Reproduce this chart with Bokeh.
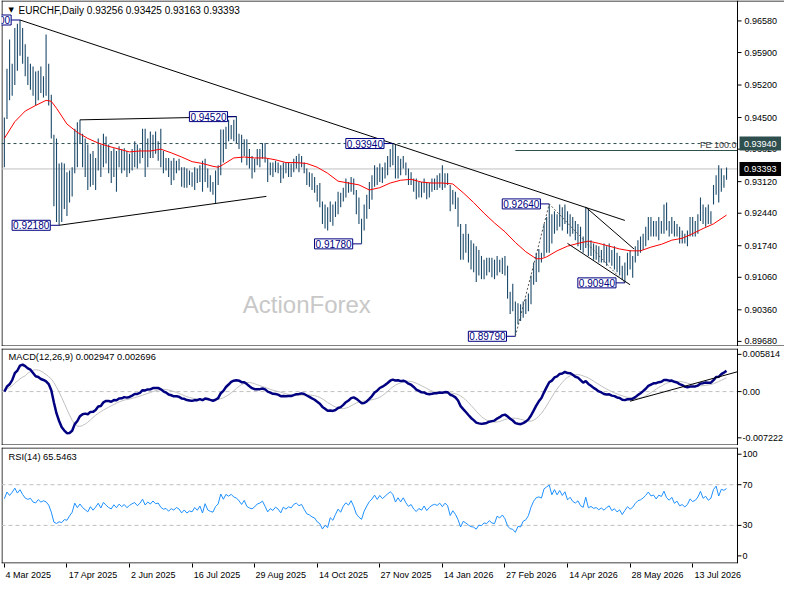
import numpy as np
from bokeh.plotting import figure
from bokeh.layouts import column
from bokeh.models import Range1d, FixedTicker, Label, Span
from bokeh.core.properties import value
from bokeh.embed import file_html
from bokeh.resources import INLINE

# ---------------- data ----------------
highs = [
    0.9450, 0.9555, 0.9618, 0.9566, 0.9643, 0.9652, 0.9660, 0.9643, 0.9608, 0.9581,
    0.9566, 0.9560, 0.9549, 0.9551, 0.9560, 0.9539, 0.9629, 0.9566, 0.9499, 0.9413,
    0.9405, 0.9351, 0.9353, 0.9351, 0.9332, 0.9336, 0.9343, 0.9426, 0.9440, 0.9445,
    0.9415, 0.9405, 0.9392, 0.9372, 0.9378, 0.9363, 0.9405, 0.9392, 0.9415, 0.9409,
    0.9392, 0.9378, 0.9384, 0.9378, 0.9388, 0.9382, 0.9384, 0.9378, 0.9372, 0.9382,
    0.9399, 0.9392, 0.9384, 0.9426, 0.9426, 0.9405, 0.9420, 0.9413, 0.9420, 0.9399,
    0.9426, 0.9378, 0.9363, 0.9363, 0.9357, 0.9363, 0.9357, 0.9361, 0.9343, 0.9343,
    0.9340, 0.9336, 0.9332, 0.9343, 0.9340, 0.9347, 0.9357, 0.9361, 0.9340, 0.9326,
    0.9311, 0.9336, 0.9347, 0.9424, 0.9424, 0.9430, 0.9445, 0.9434, 0.9445, 0.9452,
    0.9415, 0.9413, 0.9403, 0.9403, 0.9382, 0.9367, 0.9361, 0.9382, 0.9382, 0.9395,
    0.9395, 0.9361, 0.9353, 0.9353, 0.9357, 0.9353, 0.9347, 0.9353, 0.9353, 0.9353,
    0.9351, 0.9361, 0.9367, 0.9372, 0.9367, 0.9353, 0.9340, 0.9332, 0.9330, 0.9322,
    0.9305, 0.9309, 0.9269, 0.9263, 0.9257, 0.9269, 0.9263, 0.9269, 0.9290, 0.9288,
    0.9299, 0.9319, 0.9311, 0.9322, 0.9319, 0.9294, 0.9278, 0.9232, 0.9263, 0.9284,
    0.9311, 0.9326, 0.9347, 0.9343, 0.9351, 0.9343, 0.9353, 0.9367, 0.9382, 0.9394,
    0.9393, 0.9367, 0.9361, 0.9367, 0.9353, 0.9340, 0.9332, 0.9319, 0.9319, 0.9311,
    0.9311, 0.9319, 0.9311, 0.9309, 0.9319, 0.9319, 0.9326, 0.9330, 0.9347, 0.9330,
    0.9330, 0.9305, 0.9294, 0.9290, 0.9278, 0.9221, 0.9200, 0.9221, 0.9200, 0.9186,
    0.9179, 0.9173, 0.9165, 0.9152, 0.9144, 0.9148, 0.9148, 0.9148, 0.9144, 0.9152,
    0.9144, 0.9148, 0.9152, 0.9131, 0.9075, 0.9092, 0.9054, 0.9050, 0.9048, 0.9054,
    0.9060, 0.9071, 0.9110, 0.9138, 0.9159, 0.9167, 0.9159, 0.9221, 0.9236, 0.9264,
    0.9242, 0.9248, 0.9242, 0.9263, 0.9257, 0.9263, 0.9248, 0.9242, 0.9236, 0.9227,
    0.9221, 0.9215, 0.9194, 0.9257, 0.9253, 0.9186, 0.9179, 0.9175, 0.9173, 0.9165,
    0.9179, 0.9173, 0.9179, 0.9165, 0.9173, 0.9159, 0.9152, 0.9131, 0.9138, 0.9159,
    0.9165, 0.9152, 0.9173, 0.9186, 0.9194, 0.9200, 0.9215, 0.9236, 0.9236, 0.9227,
    0.9227, 0.9236, 0.9227, 0.9263, 0.9267, 0.9227, 0.9236, 0.9227, 0.9221, 0.9215,
    0.9207, 0.9200, 0.9207, 0.9236, 0.9236, 0.9227, 0.9242, 0.9278, 0.9263, 0.9257,
    0.9263, 0.9248, 0.9305, 0.9326, 0.9347, 0.9340, 0.9326, 0.93425,
]
lows = [
    0.9343, 0.9447, 0.9487, 0.9497, 0.9520, 0.9551, 0.9583, 0.9566, 0.9539, 0.9520,
    0.9510, 0.9497, 0.9476, 0.9487, 0.9503, 0.9493, 0.9497, 0.9476, 0.9405, 0.9259,
    0.9225, 0.9218, 0.9225, 0.9253, 0.9238, 0.9267, 0.9280, 0.9330, 0.9343, 0.9393,
    0.9343, 0.9322, 0.9294, 0.9301, 0.9305, 0.9294, 0.9336, 0.9322, 0.9343, 0.9351,
    0.9330, 0.9309, 0.9322, 0.9290, 0.9343, 0.9330, 0.9336, 0.9322, 0.9330, 0.9336,
    0.9343, 0.9340, 0.9351, 0.9363, 0.9322, 0.9343, 0.9363, 0.9363, 0.9372, 0.9357,
    0.9343, 0.9330, 0.9336, 0.9322, 0.9305, 0.9315, 0.9330, 0.9336, 0.9301, 0.9299,
    0.9299, 0.9305, 0.9301, 0.9294, 0.9309, 0.9311, 0.9290, 0.9311, 0.9299, 0.9290,
    0.9284, 0.9265, 0.9305, 0.9326, 0.9353, 0.9382, 0.9399, 0.9403, 0.9399, 0.9395,
    0.9382, 0.9353, 0.9367, 0.9347, 0.9340, 0.9319, 0.9332, 0.9347, 0.9343, 0.9361,
    0.9353, 0.9311, 0.9326, 0.9322, 0.9332, 0.9330, 0.9309, 0.9319, 0.9330, 0.9322,
    0.9322, 0.9332, 0.9340, 0.9332, 0.9343, 0.9330, 0.9305, 0.9301, 0.9294, 0.9288,
    0.9269, 0.9257, 0.9221, 0.9211, 0.9207, 0.9225, 0.9217, 0.9236, 0.9242, 0.9257,
    0.9269, 0.9278, 0.9288, 0.9290, 0.9284, 0.9242, 0.9221, 0.9178, 0.9207, 0.9232,
    0.9253, 0.9273, 0.9301, 0.9305, 0.9311, 0.9309, 0.9319, 0.9326, 0.9343, 0.9347,
    0.9319, 0.9319, 0.9326, 0.9340, 0.9326, 0.9305, 0.9305, 0.9290, 0.9274, 0.9278,
    0.9278, 0.9288, 0.9274, 0.9278, 0.9290, 0.9294, 0.9294, 0.9299, 0.9294, 0.9299,
    0.9305, 0.9248, 0.9263, 0.9253, 0.9215, 0.9144, 0.9144, 0.9159, 0.9138, 0.9123,
    0.9117, 0.9096, 0.9110, 0.9102, 0.9102, 0.9110, 0.9117, 0.9106, 0.9102, 0.9110,
    0.9117, 0.9113, 0.9110, 0.9060, 0.9027, 0.9033, 0.8979, 0.9005, 0.9012, 0.9019,
    0.9027, 0.9033, 0.9048, 0.9090, 0.9096, 0.9117, 0.9138, 0.9150, 0.9159, 0.9159,
    0.9179, 0.9200, 0.9207, 0.9215, 0.9207, 0.9221, 0.9200, 0.9194, 0.9200, 0.9186,
    0.9173, 0.9165, 0.9159, 0.9169, 0.9152, 0.9152, 0.9144, 0.9144, 0.9138, 0.9138,
    0.9138, 0.9131, 0.9138, 0.9131, 0.9123, 0.9117, 0.9110, 0.9100, 0.9094, 0.9110,
    0.9123, 0.9105, 0.9138, 0.9152, 0.9159, 0.9165, 0.9173, 0.9186, 0.9194, 0.9194,
    0.9194, 0.9186, 0.9200, 0.9200, 0.9207, 0.9194, 0.9200, 0.9194, 0.9194, 0.9179,
    0.9179, 0.9179, 0.9173, 0.9194, 0.9194, 0.9194, 0.9200, 0.9227, 0.9221, 0.9215,
    0.9221, 0.9221, 0.9263, 0.9284, 0.9267, 0.9290, 0.9299, 0.93163,
]
closes = [
    0.9440, 0.9540, 0.9505, 0.9555, 0.9630, 0.9580, 0.9640, 0.9590, 0.9550, 0.9535,
    0.9550, 0.9510, 0.9500, 0.9540, 0.9515, 0.9530, 0.9520, 0.9490, 0.9415, 0.9265,
    0.9240, 0.9255, 0.9240, 0.9265, 0.9255, 0.9290, 0.9320, 0.9410, 0.9360, 0.9400,
    0.9360, 0.9335, 0.9310, 0.9360, 0.9320, 0.9350, 0.9390, 0.9340, 0.9400, 0.9370,
    0.9345, 0.9330, 0.9370, 0.9340, 0.9375, 0.9350, 0.9370, 0.9340, 0.9360, 0.9375,
    0.9385, 0.9360, 0.9380, 0.9415, 0.9370, 0.9395, 0.9380, 0.9405, 0.9385, 0.9390,
    0.9360, 0.9345, 0.9350, 0.9330, 0.9345, 0.9335, 0.9350, 0.9340, 0.9315, 0.9330,
    0.9310, 0.9320, 0.9315, 0.9335, 0.9320, 0.9340, 0.9300, 0.9350, 0.9310, 0.9300,
    0.9295, 0.9325, 0.9340, 0.9410, 0.9380, 0.9420, 0.9410, 0.9425, 0.9410, 0.9405,
    0.9390, 0.9370, 0.9395, 0.9360, 0.9350, 0.9345, 0.9355, 0.9370, 0.9375, 0.9385,
    0.9360, 0.9330, 0.9345, 0.9335, 0.9350, 0.9340, 0.9320, 0.9345, 0.9335, 0.9345,
    0.9340, 0.9355, 0.9360, 0.9350, 0.9355, 0.9335, 0.9315, 0.9310, 0.9300, 0.9295,
    0.9275, 0.9265, 0.9230, 0.9240, 0.9225, 0.9255, 0.9240, 0.9260, 0.9280, 0.9265,
    0.9290, 0.9305, 0.9295, 0.9315, 0.9290, 0.9250, 0.9230, 0.9215, 0.9250, 0.9275,
    0.9300, 0.9315, 0.9340, 0.9320, 0.9345, 0.9330, 0.9345, 0.9360, 0.9375, 0.9365,
    0.9330, 0.9355, 0.9335, 0.9360, 0.9335, 0.9315, 0.9325, 0.9300, 0.9285, 0.9300,
    0.9290, 0.9310, 0.9285, 0.9300, 0.9310, 0.9315, 0.9310, 0.9320, 0.9305, 0.9320,
    0.9310, 0.9260, 0.9280, 0.9260, 0.9225, 0.9160, 0.9185, 0.9170, 0.9150, 0.9135,
    0.9130, 0.9110, 0.9125, 0.9120, 0.9130, 0.9125, 0.9135, 0.9120, 0.9115, 0.9140,
    0.9130, 0.9140, 0.9120, 0.9070, 0.9045, 0.9040, 0.9010, 0.9030, 0.9025, 0.9045,
    0.9050, 0.9065, 0.9100, 0.9130, 0.9150, 0.9155, 0.9150, 0.9210, 0.9225, 0.9240,
    0.9200, 0.9240, 0.9215, 0.9250, 0.9225, 0.9255, 0.9210, 0.9230, 0.9205, 0.9195,
    0.9210, 0.9180, 0.9170, 0.9240, 0.9165, 0.9175, 0.9160, 0.9165, 0.9150, 0.9160,
    0.9145, 0.9160, 0.9170, 0.9140, 0.9150, 0.9130, 0.9140, 0.9110, 0.9130, 0.9150,
    0.9135, 0.9145, 0.9165, 0.9180, 0.9185, 0.9195, 0.9210, 0.9230, 0.9215, 0.9220,
    0.9205, 0.9225, 0.9220, 0.9250, 0.9225, 0.9215, 0.9230, 0.9205, 0.9215, 0.9195,
    0.9200, 0.9190, 0.9200, 0.9225, 0.9215, 0.9220, 0.9235, 0.9265, 0.9240, 0.9250,
    0.9235, 0.9245, 0.9295, 0.9320, 0.9280, 0.9330, 0.93256, 0.93393,
]
# red moving average at these bar indices
ma_idx = [0, 4, 8, 12, 16, 18, 20, 24, 28, 32, 36, 40, 44, 48, 52, 56, 60, 64, 68, 72,
          76, 80, 82, 84, 88, 92, 96, 100, 104, 108, 112, 116, 120, 124, 128, 132, 136,
          140, 144, 148, 152, 156, 160, 164, 168, 172, 176, 180, 184, 188, 192, 196, 200,
          204, 206, 208, 212, 216, 220, 224, 228, 232, 236, 240, 244, 248, 252, 256, 260,
          264, 268, 272, 277]
ma_val = [0.9405, 0.9441, 0.9464, 0.9476, 0.9487, 0.9485, 0.9470, 0.9436, 0.9418, 0.9405,
          0.9395, 0.9388, 0.9382, 0.9376, 0.9378, 0.9378, 0.9382, 0.9374, 0.9365, 0.9355,
          0.9351, 0.9345, 0.9343, 0.9349, 0.9363, 0.9365, 0.9363, 0.9363, 0.9359, 0.9353,
          0.9353, 0.9351, 0.9343, 0.9330, 0.9313, 0.9309, 0.9305, 0.9294, 0.9299, 0.9309,
          0.9315, 0.9317, 0.9311, 0.9309, 0.9309, 0.9307, 0.9288, 0.9267, 0.9244, 0.9223,
          0.9204, 0.9181, 0.9161, 0.9146, 0.9146, 0.9150, 0.9163, 0.9173, 0.9179, 0.9184,
          0.9179, 0.9173, 0.9167, 0.9163, 0.9163, 0.9171, 0.9177, 0.9186, 0.9190, 0.9200,
          0.9211, 0.9221, 0.9240]

price_ticks = [0.96580, 0.95900, 0.95200, 0.94500, 0.93820, 0.93120, 0.92440,
               0.91740, 0.91060, 0.90360, 0.89680]
macd_ticks = [-0.007222, 0.0, 0.005814]
macd_tick_labels = ["-0.007222", "0.00", "0.005814"]
rsi_ticks = [0, 30, 70, 100]
date_idx = [0, 24, 48, 72, 96, 120, 144, 168, 192, 216, 240, 264]
date_labels = ["4 Mar 2025", "17 Apr 2025", "2 Jun 2025", "16 Jul 2025", "29 Aug 2025",
               "14 Oct 2025", "27 Nov 2025", "14 Jan 2026", "27 Feb 2026", "14 Apr 2026",
               "28 May 2026", "13 Jul 2026"]
# marked swing points (bar index, which end of the bar)
swings = [(6, "high"), (21, "low"), (89, "high"), (137, "low"), (149, "high"),
          (196, "low"), (209, "high"), (238, "low")]
wedge_upper = [(223, 0.9257), (241.5, 0.9167)]
wedge_lower = [(216, 0.9179), (240, 0.9090)]
macd_trend = [(240, -0.0015), (281.2, 0.0031)]
title_text = "EURCHF,Daily  0.93256 0.93425 0.93163 0.93393"
macd_text = "MACD(12,26,9) 0.002947 0.002696"
rsi_text = "RSI(14) 65.5463"

# ---------------- indicators ----------------
c = np.array(closes)
n = len(c)
idx = np.arange(n)


def ema(x, span):
    a = 2.0 / (span + 1)
    out = np.empty_like(x)
    out[0] = x[0]
    for k in range(1, len(x)):
        out[k] = a * x[k] + (1 - a) * out[k - 1]
    return out


macd = ema(c, 12) - ema(c, 26)
signal = np.array([macd[max(0, k - 8):k + 1].mean() for k in range(n)])

d = np.diff(c)
gains = np.clip(d, 0, None)
losses = np.clip(-d, 0, None)
g = gains[:14].mean()
l = losses[:14].mean()
rsi = [100 * g / (g + l)]
for k in range(len(d)):
    g = (g * 13 + gains[k]) / 14
    l = (l * 13 + losses[k]) / 14
    rsi.append(100 * g / (g + l))

# ---------------- layout ----------------
FONT = "Liberation Sans"
W = 784
FRAME_W = W - 1
XB = 281.2                     # right edge of the bar area (price-scale border)
XS = -1.1
PPB = 736 / (XB - XS)          # pixels per bar
xr = Range1d(XS, XS + FRAME_W / PPB)
TICK = 4 / PPB
EX = 0.5 / PPB
BAR = "#1c4a6a"
NB = "\u00a0"


def panel(h, yr, top, bottom, xaxis):
    p = figure(width=W, height=h, x_range=xr, y_range=yr, output_backend="svg",
               toolbar_location=None, x_axis_location="below" if xaxis else None,
               y_axis_location=None, min_border_left=1, min_border_right=0,
               min_border_top=top, min_border_bottom=bottom)
    p.grid.visible = False
    p.outline_line_color = None
    p.background_fill_color = "white"
    p.border_fill_color = "white"
    return p


def frame_lines(p, yr, fh, bottom_full=False, top_full=False):
    ey = 0.5 * (yr.end - yr.start) / fh
    p.segment(x0=[XS + EX], y0=[yr.start], x1=[XS + EX], y1=[yr.end], line_color="black")
    p.add_layout(Span(location=XB, dimension="height", line_color="black", line_width=1))
    p.segment(x0=[XS], y0=[yr.start + ey], x1=[xr.end if bottom_full else XB],
              y1=[yr.start + ey], line_color="black")
    p.segment(x0=[XS], y0=[yr.end - ey], x1=[xr.end if top_full else XB],
              y1=[yr.end - ey], line_color="black")


def scale(p, ticks, labels, off):
    k = len(ticks)
    p.segment(x0=[XB] * k, y0=ticks, x1=[XB + TICK] * k, y1=ticks, line_color="black",
              line_width=1)
    p.text(x=[XB] * k, y=ticks, text=labels, x_offset=off, text_baseline="middle",
           text_align="left", text_font=value(FONT), text_font_size=value("9px"),
           text_color="black")


def txt(p, x, y, text, **kw):
    opts = dict(text_font=FONT, text_font_size="9.5px", text_color="black")
    opts.update(kw)
    p.add_layout(Label(x=x, y=y, text=text, **opts))


# ---- main price panel ----
H1 = 346
yr1 = Range1d(0.8957, 0.9702)
p1 = panel(H1, yr1, 0, 0, False)
frame_lines(p1, yr1, H1, bottom_full=True, top_full=True)

txt(p1, 116, 0.9047, "ActionForex", text_align="center", text_baseline="middle",
    text_font_size="24px", text_color="#c8c8c8")

level_hi = highs[149]
fe_level = lows[238] + (highs[209] - lows[196])
p1.segment(x0=[XS], y0=[level_hi], x1=[XB], y1=[level_hi], line_color="#2f4f4f",
           line_dash="3 3", line_width=1)
p1.segment(x0=[XS], y0=[closes[-1]], x1=[XB], y1=[closes[-1]], line_color="#c0c0c0",
           line_width=1)
p1.segment(x0=[196], y0=[fe_level], x1=[XB], y1=[fe_level], line_color="#2f4f4f",
           line_width=1)

p1.segment(x0=idx, y0=lows, x1=idx, y1=highs, line_color=BAR, line_width=1.1)
p1.line(ma_idx, ma_val, line_color="red", line_width=1)

# main falling trend line through the two marked highs
ta, tb = 6, 149
slope = (highs[tb] - highs[ta]) / (tb - ta)
tend = 238
p1.line([ta, tend], [highs[ta], highs[ta] + slope * (tend - ta)], line_color="black",
        line_width=1)
# triangle lines
p1.line([29, 89], [highs[29], highs[89]], line_color="black", line_width=1)
s2 = (lows[81] - lows[21]) / (81 - 21)
p1.line([21, 100.5], [lows[21], lows[21] + s2 * (100.5 - 21)], line_color="black",
        line_width=1)
# wedge lines
p1.line([q[0] for q in wedge_upper], [q[1] for q in wedge_upper], line_color="black",
        line_width=1)
p1.line([q[0] for q in wedge_lower], [q[1] for q in wedge_lower], line_color="black",
        line_width=1)
# expansion legs
p1.line([196, 209, 238], [lows[196], highs[209], lows[238]], line_color="#555555",
        line_dash="2 2", line_width=1)

LEAD = 3.4
for bi, side in swings:
    pv = highs[bi] if side == "high" else lows[bi]
    p1.segment(x0=[bi - LEAD], y0=[pv], x1=[bi], y1=[pv], line_color="#000080",
               line_width=1)
    p1.add_layout(Label(x=bi - LEAD, y=pv, text=f"{pv:.5f}", text_align="right",
                        text_baseline="middle", text_font=FONT, text_font_size="10px",
                        text_color="#000080", border_line_color="#000080",
                        background_fill_color="white", padding=1))

txt(p1, XB, fe_level, "FE 100.0", text_align="right", text_baseline="bottom",
    x_offset=-1, y_offset=1, text_color="#404040", text_font_size="9px")
txt(p1, XS, yr1.end, "\u25bc", text_baseline="top", x_offset=7, y_offset=-5,
    text_font="DejaVu Sans", text_font_size="7px")
txt(p1, XS, yr1.end, title_text, text_baseline="top", x_offset=17, y_offset=-4,
    text_font_size="10px")

scale(p1, price_ticks, [f"{t:.5f}" for t in price_ticks], 7)

# highlighted prices on the scale
p1.add_layout(Label(x=XB, y=level_hi, text=NB + f"{level_hi:.5f}" + NB, x_offset=2,
                    text_baseline="middle", text_font=FONT, text_font_size="9px",
                    text_color="white", background_fill_color="#2f4f4f", padding=2))
p1.add_layout(Label(x=XB, y=closes[-1], text=NB + f"{closes[-1]:.5f}" + NB, x_offset=2,
                    text_baseline="middle", text_font=FONT, text_font_size="9px",
                    text_color="white", background_fill_color="black", padding=2))

# ---- MACD panel ----
H2, T2 = 99, 2
yr2 = Range1d(-0.00842, 0.00673)
p2 = panel(H2, yr2, T2, 0, False)
frame_lines(p2, yr2, H2 - T2)
p2.segment(x0=[XS], y0=[0], x1=[XB], y1=[0], line_color="#c0c0c0", line_dash="4 3",
           line_width=1)
txt(p2, XS, yr2.end, macd_text, text_baseline="top", x_offset=7, y_offset=-3,
    level="underlay", text_font_size="9.3px")
p2.line(idx, signal, line_color="#c0c0c0", line_width=1)
p2.line(idx, macd, line_color="#000080", line_width=2.5)
p2.line([q[0] for q in macd_trend], [q[1] for q in macd_trend], line_color="black",
        line_width=1)
scale(p2, macd_ticks, macd_tick_labels, 5)

# ---- RSI panel ----
H3, T3, B3 = 139, 2, 21
yr3 = Range1d(-7.5, 106.6)
p3 = panel(H3, yr3, T3, B3, True)
frame_lines(p3, yr3, H3 - T3 - B3)
for lv in (70, 30):
    p3.segment(x0=[XS], y0=[lv], x1=[XB], y1=[lv], line_color="#c0c0c0",
               line_dash="4 3", line_width=1)
txt(p3, XS, yr3.end, rsi_text, text_baseline="top", x_offset=7, y_offset=-4,
    text_font_size="9.3px")
p3.line(idx, rsi, line_color="#1e90ff", line_width=1)
scale(p3, rsi_ticks, [str(t) for t in rsi_ticks], 5)

# date axis: labels start at their tick (the axis centres labels, so pad on the left)
EM = {" ": 0.278, "M": 0.833, "a": 0.556, "r": 0.333, "A": 0.667, "p": 0.556,
      "J": 0.5, "u": 0.556, "n": 0.556, "l": 0.222, "g": 0.556, "O": 0.778,
      "c": 0.5, "t": 0.278, "N": 0.722, "o": 0.556, "v": 0.5, "F": 0.611,
      "e": 0.556, "b": 0.556, "y": 0.5}


def padded(s, first):
    if first:
        return NB * 2 + s
    w = sum(EM.get(ch, 0.556) for ch in s)
    return NB * (int(round(w / 0.278)) + 1) + s


xa = p3.xaxis[0]
xa.ticker = FixedTicker(ticks=date_idx)
xa.major_label_overrides = {i: padded(s, j == 0)
                            for j, (i, s) in enumerate(zip(date_idx, date_labels))}
xa.axis_line_color = None
xa.major_tick_out = 4
xa.major_tick_in = 0
xa.minor_tick_line_color = None
xa.major_tick_line_color = "black"
xa.major_label_standoff = 2
xa.major_label_text_font = FONT
xa.major_label_text_font_size = "9px"
xa.major_label_text_color = "black"

layout = column(p1, p2, p3, spacing=0)
open("out.html", "w").write(file_html(layout, INLINE))
